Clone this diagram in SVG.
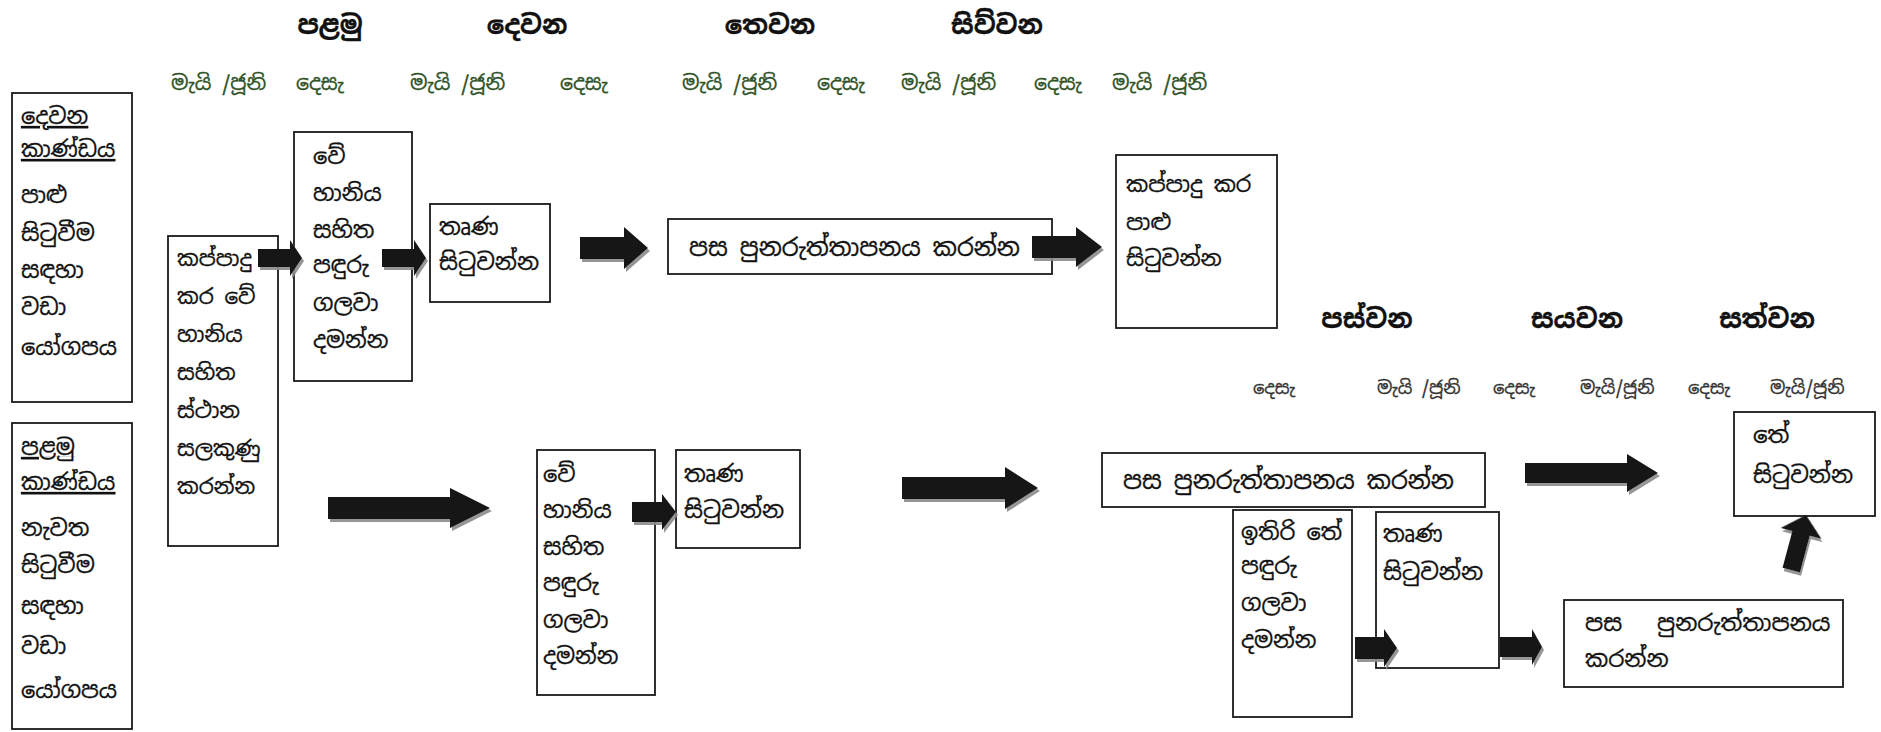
<svg xmlns="http://www.w3.org/2000/svg" width="1881" height="732" viewBox="0 0 1881 732">
<defs>
<style>
text{font-family:"Noto Sans Sinhala","Noto Serif Sinhala","Iskoola Pota","Noto Sans",sans-serif;fill:#111;stroke:#111;stroke-width:0.3}
.hd{font-size:26px;font-weight:bold;text-anchor:middle}
.mo{font-size:20.5px;fill:#2f5226;stroke:#2f5226}
.mo2{font-size:18px;fill:#333;stroke:#333}
.bx{fill:#fff;stroke:#1a1a1a;stroke-width:1.8}
.t{font-size:22.5px}
.tc{font-size:21.5px}
.tf{font-size:24px}
.tg{font-size:23px}
.tk{font-size:22px}
.u{text-decoration:underline}
.arr{fill:#151515;filter:url(#sh)}
</style>
<filter id="sh" x="-20%" y="-30%" width="150%" height="180%">
<feDropShadow dx="2" dy="3" stdDeviation="0.7" flood-color="#8a8a8a" flood-opacity="0.9"/>
</filter>
</defs>
<rect width="1881" height="732" fill="#fff"/>

<g id="headers">
<text class="hd" x="330" y="34">පළමු</text>
<text class="hd" x="527" y="34">දෙවන</text>
<text class="hd" x="770" y="34">තෙවන</text>
<text class="hd" x="997" y="34">සිව්වන</text>
<text class="mo" x="171" y="90">මැයි /ජූනි</text>
<text class="mo" x="296" y="90">දෙසැ</text>
<text class="mo" x="410" y="90">මැයි /ජූනි</text>
<text class="mo" x="560" y="90">දෙසැ</text>
<text class="mo" x="682" y="90">මැයි /ජූනි</text>
<text class="mo" x="817" y="90">දෙසැ</text>
<text class="mo" x="901" y="90">මැයි /ජූනි</text>
<text class="mo" x="1034" y="90">දෙසැ</text>
<text class="mo" x="1112" y="90">මැයි /ජූනි</text>
<text class="hd" x="1367" y="328">පස්වන</text>
<text class="hd" x="1577" y="328">සයවන</text>
<text class="hd" x="1767" y="328">සත්වන</text>
<text class="mo2" x="1253" y="394">දෙසැ</text>
<text class="mo2" x="1377" y="394">මැයි /ජූනි</text>
<text class="mo2" x="1493" y="394">දෙසැ</text>
<text class="mo2" x="1580" y="394">මැයි/ජූනි</text>
<text class="mo2" x="1688" y="394">දෙසැ</text>
<text class="mo2" x="1770" y="394">මැයි/ජූනි</text>
</g>

<g id="boxA">
<rect class="bx" x="12" y="93" width="120" height="309"/>
<text class="t u" x="21" y="124">දෙවන</text>
<text class="t u" x="21" y="157">කාණ්ඩය</text>
<text class="t" x="21" y="203">පාළු</text>
<text class="t" x="21" y="241">සිටුවීම</text>
<text class="t" x="21" y="278">සඳහා</text>
<text class="t" x="21" y="315">වඩා</text>
<text class="t" x="21" y="355">යෝගපය</text>
</g>

<g id="boxB">
<rect class="bx" x="12" y="423" width="120" height="306"/>
<text class="t u" x="21" y="455">පළමු</text>
<text class="t u" x="21" y="490">කාණ්ඩය</text>
<text class="t" x="21" y="536">නැවත</text>
<text class="t" x="21" y="573">සිටුවීම</text>
<text class="t" x="21" y="614">සඳහා</text>
<text class="t" x="21" y="654">වඩා</text>
<text class="t" x="21" y="698">යෝගපය</text>
</g>

<g id="boxC">
<rect class="bx" x="168" y="236" width="110" height="310"/>
<text class="tc" x="177" y="266">කප්පාදු</text>
<text class="tc" x="177" y="304">කර වේ</text>
<text class="tc" x="177" y="342">හානිය</text>
<text class="tc" x="177" y="380">සහිත</text>
<text class="tc" x="177" y="418">ස්ථාන</text>
<text class="tc" x="177" y="456">සලකුණු</text>
<text class="tc" x="177" y="494">කරන්න</text>
</g>

<g id="boxD">
<rect class="bx" x="294" y="132" width="118" height="249"/>
<text class="t" x="313" y="164">වේ</text>
<text class="t" x="313" y="201">හානිය</text>
<text class="t" x="313" y="238">සහිත</text>
<text class="t" x="313" y="273">පඳුරු</text>
<text class="t" x="313" y="311">ගලවා</text>
<text class="t" x="313" y="348">දමන්න</text>
</g>

<g id="boxE">
<rect class="bx" x="430" y="204" width="120" height="98"/>
<text class="tg" x="439" y="235">තෘණ</text>
<text class="tg" x="439" y="270">සිටුවන්න</text>
</g>

<g id="boxF">
<rect class="bx" x="668" y="219" width="384" height="55"/>
<text class="tf" x="689" y="256">පස පුනරුත්තාපනය කරන්න</text>
</g>

<g id="boxG">
<rect class="bx" x="1116" y="155" width="161" height="173"/>
<text class="tk" x="1126" y="192">කප්පාදු කර</text>
<text class="tk" x="1126" y="230">පාළු</text>
<text class="tk" x="1126" y="266">සිටුවන්න</text>
</g>

<g id="boxH">
<rect class="bx" x="1102" y="453" width="383" height="54"/>
<text class="tf" x="1123" y="489">පස පුනරුත්තාපනය කරන්න</text>
</g>

<g id="boxI">
<rect class="bx" x="537" y="450" width="118" height="245"/>
<text class="t" x="543" y="482">වේ</text>
<text class="t" x="543" y="518">හානිය</text>
<text class="t" x="543" y="555">සහිත</text>
<text class="t" x="543" y="591">පඳුරු</text>
<text class="t" x="543" y="628">ගලවා</text>
<text class="t" x="543" y="664">දමන්න</text>
</g>

<g id="boxJ">
<rect class="bx" x="676" y="450" width="124" height="98"/>
<text class="tg" x="684" y="482">තෘණ</text>
<text class="tg" x="684" y="518">සිටුවන්න</text>
</g>

<g id="boxK">
<rect class="bx" x="1233" y="510" width="119" height="207"/>
<text class="t" x="1241" y="540">ඉතිරි තේ</text>
<text class="t" x="1241" y="574">පඳුරු</text>
<text class="t" x="1241" y="611">ගලවා</text>
<text class="t" x="1241" y="648">දමන්න</text>
</g>

<g id="boxL">
<rect class="bx" x="1376" y="512" width="123" height="156"/>
<text class="tg" x="1383" y="542">තෘණ</text>
<text class="tg" x="1383" y="580">සිටුවන්න</text>
</g>

<g id="boxM">
<rect class="bx" x="1564" y="600" width="279" height="87"/>
<text class="tg" y="631"><tspan x="1585">පස</tspan><tspan x="1657">පුනරුත්තාපනය</tspan></text>
<text class="tg" x="1585" y="667">කරන්න</text>
</g>

<g id="boxN">
<rect class="bx" x="1734" y="412" width="141" height="104"/>
<text class="tg" x="1753" y="443">තේ</text>
<text class="tg" x="1753" y="483">සිටුවන්න</text>
</g>

<g id="connectors">
<path class="arr" d="M258,249 H290 V240 L302,258 L290,276 V267 H258 Z"/>
<path class="arr" d="M382,249 H414 V240 L426,258 L414,276 V267 H382 Z"/>
<path class="arr" d="M580,237 H624 V227 L648,248 L624,269 V259 H580 Z"/>
<path class="arr" d="M1032,236 H1076 V227 L1102,247 L1076,267 V258 H1032 Z"/>
<path class="arr" d="M328,497 H450 V488 L490,508 L450,528 V519 H328 Z"/>
<path class="arr" d="M632,502 H662 V494 L676,512 L662,530 V522 H632 Z"/>
<path class="arr" d="M902,477 H1005 V467 L1038,488 L1005,509 V499 H902 Z"/>
<path class="arr" d="M1525,463 H1627 V454 L1658,473 L1627,492 V483 H1525 Z"/>
<path class="arr" d="M1355,637 H1384 V629 L1397,648 L1384,667 V659 H1355 Z"/>
<path class="arr" d="M1500,637 H1532 V629 L1542,647 L1532,665 V657 H1500 Z"/>
<path class="arr" transform="translate(1806,515) rotate(15)" d="M0,0 L21,19 H9 V57 H-9 V19 H-21 Z"/>
</g>
</svg>
